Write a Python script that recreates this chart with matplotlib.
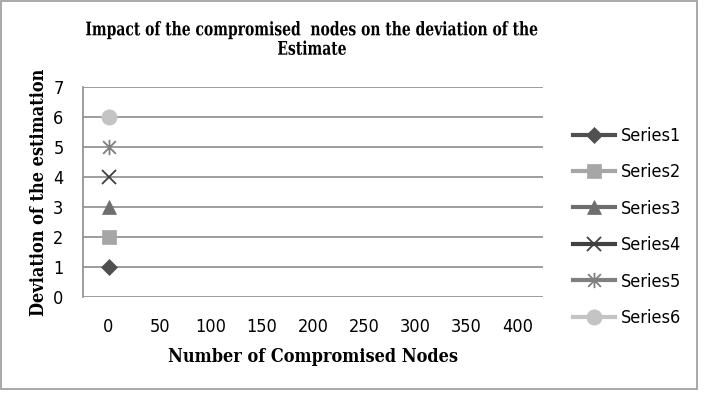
import matplotlib
matplotlib.use("Agg")
import matplotlib.pyplot as plt
from matplotlib.path import Path
from matplotlib.patches import Rectangle
from matplotlib.patheffects import AbstractPathEffect
from matplotlib.transforms import Affine2D

categories = ["0", "50", "100", "150", "200", "250", "300", "350", "400"]
series_names = ["Series1", "Series2", "Series3", "Series4", "Series5", "Series6"]
series_values = [[1], [2], [3], [4], [5], [6]]
series_colors = ["#505050", "#a6a6a6", "#6e6e6e", "#404040", "#7f7f7f", "#c4c4c4"]

# Excel-style "star" marker: an x with a vertical bar through it
star = Path(
    [(-1, -1), (1, 1), (-1, 1), (1, -1), (0, -1.2), (0, 1.2)],
    [Path.MOVETO, Path.LINETO, Path.MOVETO, Path.LINETO, Path.MOVETO, Path.LINETO],
)
markers = ["D", "s", "^", "x", star, "o"]
marker_sizes = [8, 10, 10, 10, 11, 11]


class Squeeze(AbstractPathEffect):
    """Narrow the glyphs horizontally around a fixed x (display pixels)."""

    def __init__(self, sx, cx):
        super().__init__()
        self.sx = sx
        self.cx = cx

    def draw_path(self, renderer, gc, tpath, affine, rgbFace=None):
        squeeze = Affine2D().translate(-self.cx, 0).scale(self.sx, 1).translate(self.cx, 0)
        renderer.draw_path(gc, tpath, affine + squeeze, rgbFace)


title_font = dict(family="DejaVu Serif", stretch="condensed", weight="bold")
sans = dict(family="DejaVu Sans", stretch="condensed")

fig = plt.figure(figsize=(7.08, 4.0), dpi=100)
fig.patches.append(Rectangle((1 / 708, 11 / 400), 696 / 708, 388 / 400, transform=fig.transFigure,
                             fill=False, edgecolor="#9a9a9a", linewidth=1.2))
ax = fig.add_axes([83 / 708, 103 / 400, 460 / 708, 210 / 400])

x = list(range(len(categories)))
for name, vals, color, m, ms in zip(series_names, series_values, series_colors, markers, marker_sizes):
    ax.plot(x[:len(vals)], vals, color=color, marker=m, markersize=ms, linewidth=3,
            markeredgewidth=1.3 if (m == "x" or m is star) else 0.5, label=name)

ax.set_xlim(-0.5, len(categories) - 0.5)
ax.set_ylim(0, 7)
ax.set_xticks(x)
ax.set_xticklabels(categories, fontsize=13, **sans)
ax.set_yticks(range(0, 8))
ax.set_yticklabels([str(v) for v in range(0, 8)], fontsize=13, **sans)
ax.tick_params(axis="x", length=0, pad=15)
ax.tick_params(axis="y", length=0, pad=14)
ax.yaxis.grid(True, color="#8c8c8c", linewidth=1.2)
ax.set_axisbelow(True)
for side in ("top", "right", "bottom"):
    ax.spines[side].set_visible(False)
ax.spines["left"].set_color("#8c8c8c")
ax.spines["left"].set_linewidth(1.2)

ax.set_xlabel("Number of Compromised Nodes", fontsize=13, labelpad=9, **title_font)
ax.set_ylabel("Deviation of the estimation", fontsize=13, labelpad=4, **title_font)
title = fig.text(312 / 708, 1 - 40 / 400,
                 "Impact of the compromised  nodes on the deviation of the\nEstimate",
                 ha="center", va="center", fontsize=13.5, linespacing=1.1, **title_font)
title.set_path_effects([Squeeze(0.825, 312)])

fig.legend(loc="center left", bbox_to_anchor=(573 / 708, 1 - 227 / 400), frameon=False,
           borderpad=0, borderaxespad=0, handlelength=2.35, handletextpad=0.3,
           labelspacing=1.02, prop=dict(size=13, **sans))

fig.savefig("out.png", dpi=100)
